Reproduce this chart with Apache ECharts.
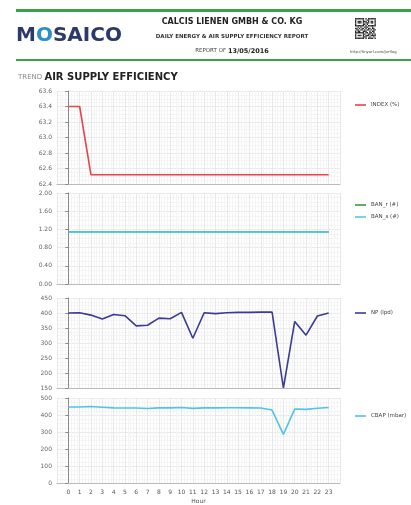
<!DOCTYPE html>
<html>
<head>
<meta charset="utf-8">
<script src="https://cdn.jsdelivr.net/npm/echarts@6/dist/echarts.min.js"></script>
<style>
  html, body { margin: 0; padding: 0; background: #fff; }
  #main { width: 411px; height: 505px; }
</style>
</head>
<body>
<div id="main"></div>
<script>
// hours 0..23
var hours = [0,1,2,3,4,5,6,7,8,9,10,11,12,13,14,15,16,17,18,19,20,21,22,23];

// values
var indexPct = [63.4,63.4,62.52,62.52,62.52,62.52,62.52,62.52,62.52,62.52,62.52,62.52,62.52,62.52,62.52,62.52,62.52,62.52,62.52,62.52,62.52,62.52,62.52,62.52];
var banR = [1.14,1.14,1.14,1.14,1.14,1.14,1.14,1.14,1.14,1.14,1.14,1.14,1.14,1.14,1.14,1.14,1.14,1.14,1.14,1.14,1.14,1.14,1.14,1.14];
var banS = [1.14,1.14,1.14,1.14,1.14,1.14,1.14,1.14,1.14,1.14,1.14,1.14,1.14,1.14,1.14,1.14,1.14,1.14,1.14,1.14,1.14,1.14,1.14,1.14];
var np = [400,401,393,380,395,391,357,359,383,381,402,316,401,398,401,402,402,403,403,150,372,326,390,400];
var cbap = [447,447,450,446,442,441,441,438,442,442,444,439,442,442,443,443,442,441,429,286,435,433,440,444];

// ticks of the y axes
var yTicks = [
  {min: 62.4, max: 63.6, interval: 0.2, dec: 1},
  {min: 0, max: 2, interval: 0.4, dec: 2},
  {min: 150, max: 450, interval: 50, dec: 0},
  {min: 0, max: 500, interval: 100, dec: 0}
];

function pairs(vals) {
  return hours.map(function (h, i) { return [h, vals[i]]; });
}

var grids = [
  {left: 57, right: 71, top: 91, height: 93},
  {left: 57, right: 71, top: 193, height: 91},
  {left: 57, right: 71, top: 298, height: 90},
  {left: 57, right: 71, top: 398, height: 88}
];

var xAxes = grids.map(function (g, i) {
  var last = i === grids.length - 1;
  return {
    type: 'value', gridIndex: i, min: -1, max: 24, interval: 1,
    name: last ? 'Hour' : '', nameLocation: 'middle', nameGap: 15,
    nameTextStyle: {fontSize: 6, color: '#555', fontFamily: 'DejaVu Sans'},
    axisLine: {show: true, onZero: false, lineStyle: {color: '#bbb', width: 1}},
    axisTick: {show: false},
    axisLabel: {
      show: last, fontSize: 6, color: '#555', margin: 6, fontFamily: 'DejaVu Sans',
      formatter: function (v) { return (v < 0 || v > 23) ? '' : String(v); }
    },
    splitLine: {show: true, lineStyle: {color: '#e8e8e8', width: 1}},
    minorTick: {show: false, splitNumber: 4},
    minorSplitLine: {show: true, lineStyle: {color: '#f4f4f4', width: 1}}
  };
});

var yAxes = yTicks.map(function (t, i) {
  return {
    type: 'value', gridIndex: i, min: t.min, max: t.max, interval: t.interval,
    axisLine: {show: true, lineStyle: {color: '#888', width: 1}},
    axisTick: {show: true, length: 3, lineStyle: {color: '#888'}},
    axisLabel: {
      fontSize: 6, color: '#666', margin: 5, fontFamily: 'DejaVu Sans',
      formatter: function (v) { return v.toFixed(t.dec); }
    },
    splitLine: {show: true, lineStyle: {color: '#e8e8e8', width: 1}},
    minorTick: {show: false, splitNumber: 4},
    minorSplitLine: {show: true, lineStyle: {color: '#f5f5f5', width: 1}}
  };
});

function line(name, vals, idx, color) {
  return {
    name: name, type: 'line', xAxisIndex: idx, yAxisIndex: idx,
    data: pairs(vals), showSymbol: false, symbol: 'none',
    lineStyle: {color: color, width: 1.6}, itemStyle: {color: color},
    animation: false
  };
}

function legend(names, top) {
  return {
    data: names, orient: 'vertical', left: 350, top: top,
    icon: 'rect', itemWidth: 11, itemHeight: 1.6, itemGap: 6,
    textStyle: {fontSize: 5.5, color: '#444', fontFamily: 'DejaVu Sans'},
    selectedMode: false
  };
}

// decorative QR code pattern
var qrRows = [
  '1111111010111111',
  '1000001001100001',
  '1011101110101101',
  '1011101011101101',
  '1000001101000001',
  '1111111010111111',
  '0010100111000100',
  '1101011010110110',
  '0110110101101011',
  '1011001110010110',
  '1111111011011010',
  '1000001100110101',
  '1011101011101111',
  '1000001110010010',
  '1111111010111101'
];
var qr = [];
qrRows.forEach(function (row, r) {
  row.split('').forEach(function (c, k) {
    if (c === '1') qr.push({type: 'rect', shape: {x: 355 + k * 1.3, y: 18 + r * 1.4, width: 1.3, height: 1.4}, style: {fill: '#222'}});
  });
});

var graphics = [
  {type: 'rect', shape: {x: 16, y: 9, width: 395, height: 3}, style: {fill: '#3aa345'}},
  {type: 'rect', shape: {x: 16, y: 59, width: 395, height: 2}, style: {fill: '#3aa345'}},
  {type: 'text', x: 16, y: 36, style: {
    text: '{a|M}{o|O}{a|SAICO}', textVerticalAlign: 'middle',
    rich: {
      a: {font: 'bold 20px "DejaVu Sans"', fill: '#2b3a6b'},
      o: {font: 'bold 20px "DejaVu Sans"', fill: '#2e8fc8'}
    }
  }},
  {type: 'text', x: 232, y: 22, style: {text: 'CALCIS LIENEN GMBH & CO. KG', font: 'bold 8px "DejaVu Sans"', fill: '#222', textAlign: 'center', textVerticalAlign: 'middle'}},
  {type: 'text', x: 232, y: 37, style: {text: 'DAILY ENERGY & AIR SUPPLY EFFICIENCY REPORT', font: 'bold 5.5px "DejaVu Sans"', fill: '#333', textAlign: 'center', textVerticalAlign: 'middle'}},
  {type: 'text', x: 232, y: 51, style: {
    text: '{a|REPORT OF }{b|13/05/2016}', textAlign: 'center', textVerticalAlign: 'middle',
    rich: {a: {font: '5.5px "DejaVu Sans"', fill: '#444'}, b: {font: 'bold 6.5px "DejaVu Sans"', fill: '#222'}}
  }},
  {type: 'text', x: 350, y: 52, style: {text: 'http://tinyurl.com/jortlog', font: '3.8px "DejaVu Sans"', fill: '#444', textVerticalAlign: 'middle'}},
  {type: 'text', x: 18, y: 77, style: {
    text: '{a|TREND }{b|AIR SUPPLY EFFICIENCY}', textVerticalAlign: 'middle',
    rich: {a: {font: '7px "DejaVu Sans"', fill: '#888'}, b: {font: 'bold 10px "DejaVu Sans"', fill: '#222'}}
  }}
].concat(qr);

var chart = echarts.init(document.getElementById('main'), null, {renderer: 'canvas'});
chart.setOption({
  backgroundColor: '#fff',
  animation: false,
  grid: grids,
  xAxis: xAxes,
  yAxis: yAxes,
  legend: [
    legend(['INDEX (%)'], 97),
    legend(['BAN_r (#)', 'BAN_s (#)'], 197),
    legend(['NP (lpd)'], 305),
    legend(['CBAP (mbar)'], 408)
  ],
  series: [
    line('INDEX (%)', indexPct, 0, '#e8434c'),
    line('BAN_r (#)', banR, 1, '#3a9c3e'),
    line('BAN_s (#)', banS, 1, '#56c8e2'),
    line('NP (lpd)', np, 2, '#3b3a98'),
    line('CBAP (mbar)', cbap, 3, '#4fc3ea')
  ],
  graphic: graphics
});
</script>
</body>
</html>
